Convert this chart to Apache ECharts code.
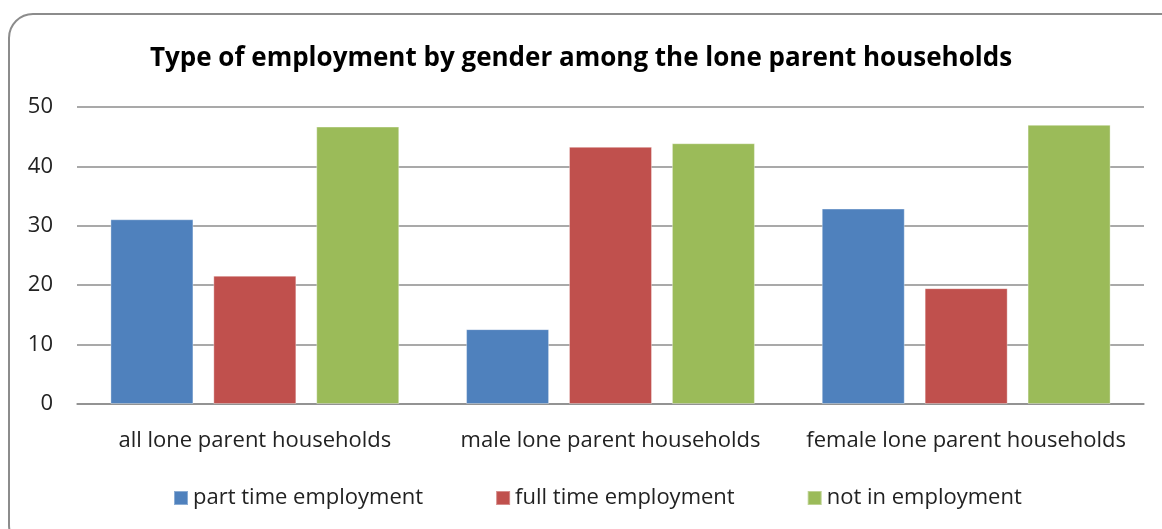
<!DOCTYPE html>
<html>
<head>
<meta charset="utf-8">
<script src="https://cdn.jsdelivr.net/npm/echarts@6/dist/echarts.min.js"></script>
<style>html,body{margin:0;padding:0;background:#fff;}#c{width:1162px;height:529px;}</style>
</head>
<body>
<div id="c"></div>
<script>
const categories = ['all lone parent households', 'male lone parent households', 'female lone parent households'];
const seriesNames = ['part time employment', 'full time employment', 'not in employment'];
const partTime = [31.1, 12.6, 32.9];
const fullTime = [21.6, 43.3, 19.5];
const notEmployed = [46.7, 43.9, 47.0];
const yTicks = [0, 10, 20, 30, 40, 50];
const colors = ['#4F81BD', '#C0504D', '#9BBB59'];

const chart = echarts.init(document.getElementById('c'), null, {renderer: 'canvas'});
const font = '"Open Sans", sans-serif';
const values = [partTime, fullTime, notEmployed];
chart.setOption({
  animation: false,
  backgroundColor: '#fff',
  title: {
    text: 'Type of employment by gender among the lone parent households',
    left: 'center',
    top: 41,
    textStyle: {fontFamily: font, fontWeight: 'bold', fontSize: 26, color: '#000'}
  },
  graphic: [{
    type: 'rect',
    shape: {x: 9, y: 14, width: 1185, height: 535, r: 24},
    style: {fill: 'none', stroke: '#8c8c8c', lineWidth: 2},
    silent: true,
    z: -1
  }],
  legend: {
    data: seriesNames,
    top: 482,
    left: 168,
    padding: [5, 5, 5, 5],
    itemWidth: 14,
    itemHeight: 14,
    itemGap: 72,
    icon: 'rect',
    textStyle: {fontFamily: font, fontSize: 22, color: '#222'}
  },
  grid: {left: 77, right: 18, top: 107, height: 297, containLabel: false},
  xAxis: {
    type: 'category',
    data: categories,
    axisTick: {show: false},
    axisLine: {lineStyle: {color: '#8c8c8c', width: 1.5}},
    axisLabel: {fontFamily: font, fontSize: 22, color: '#222', margin: 26, interval: 0, hideOverlap: false}
  },
  yAxis: {
    type: 'value',
    min: yTicks[0],
    max: yTicks[yTicks.length - 1],
    interval: 10,
    axisLine: {show: false},
    axisTick: {show: false},
    splitLine: {lineStyle: {color: '#8c8c8c', width: 1.5}},
    axisLabel: {fontFamily: font, fontSize: 22, color: '#222', margin: 24}
  },
  series: seriesNames.map((n, i) => ({
    name: n,
    type: 'bar',
    data: values[i],
    barWidth: 83,
    barGap: '24%',
    itemStyle: {color: colors[i], borderColor: 'rgba(255,255,255,0.35)', borderWidth: 1}
  }))
});
</script>
</body>
</html>
